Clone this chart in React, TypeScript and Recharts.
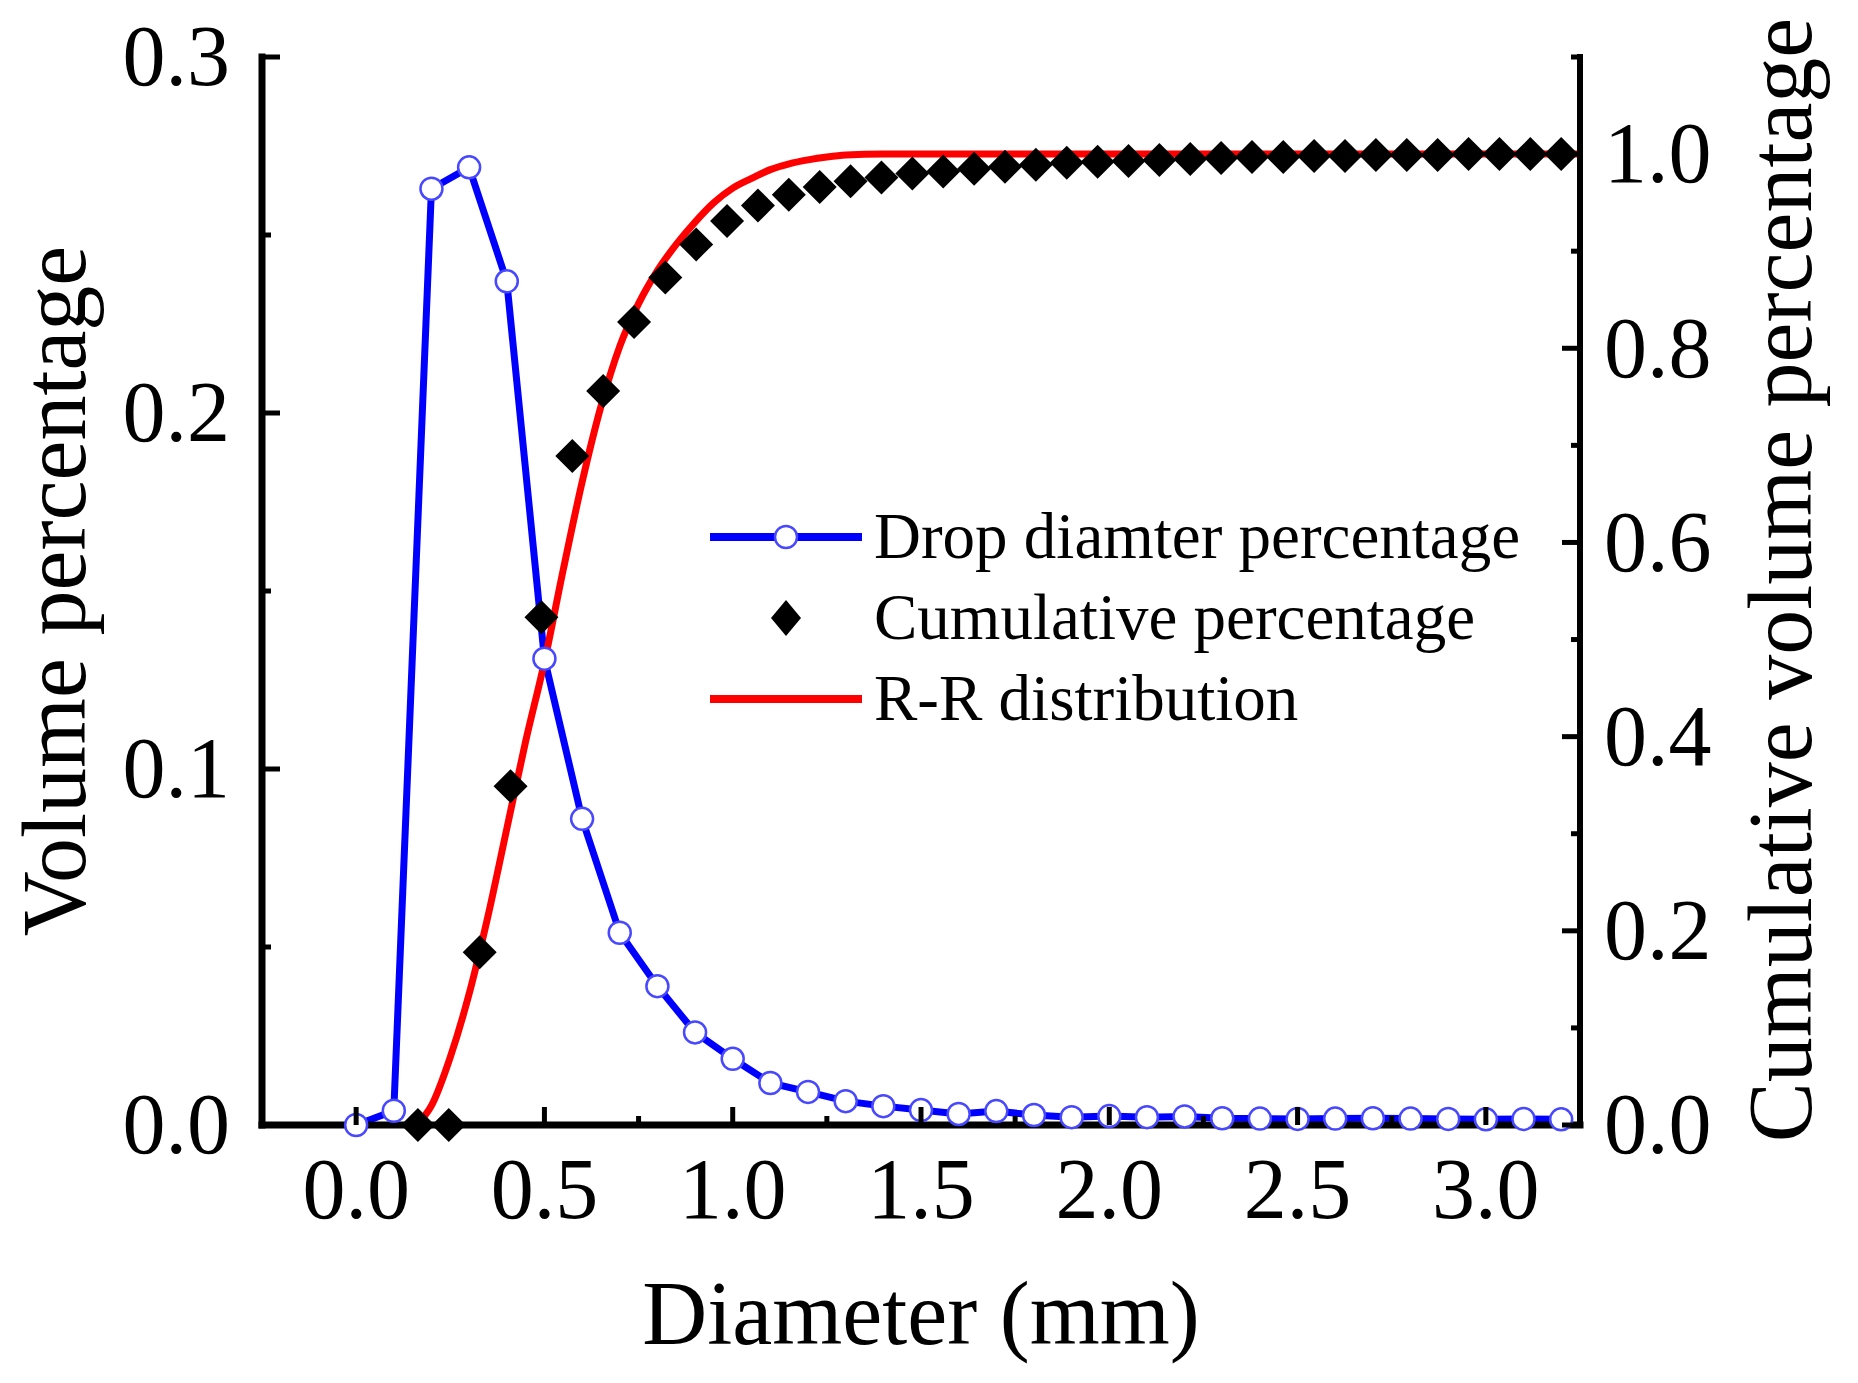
import React from "react";
import { ComposedChart, Line, XAxis, YAxis, Legend, Label } from "recharts";

const FONT = '"Liberation Serif", "Times New Roman", serif';

// drop diameter percentage (blue circles, left axis)
const dropDiameters = [0, 0.1, 0.2, 0.3, 0.4, 0.5, 0.6, 0.7, 0.8, 0.9, 1.0, 1.1, 1.2, 1.3, 1.4, 1.5, 1.6, 1.7, 1.8, 1.9, 2.0, 2.1, 2.2, 2.3, 2.4, 2.5, 2.6, 2.7, 2.8, 2.9, 3.0, 3.1, 3.2];
const dropPercent = [0, 0.004, 0.263, 0.269, 0.237, 0.131, 0.086, 0.054, 0.039, 0.026, 0.0186, 0.0118, 0.0093, 0.0067, 0.0053, 0.0042, 0.0031, 0.0039, 0.0028, 0.0022, 0.0025, 0.0022, 0.0024, 0.0019, 0.0018, 0.0017, 0.0018, 0.0019, 0.0018, 0.0017, 0.0016, 0.0017, 0.0016];

// cumulative percentage (black diamonds, right axis)
const cumDiameters = [0.164, 0.246, 0.328, 0.41, 0.492, 0.574, 0.656, 0.738, 0.821, 0.903, 0.985, 1.067, 1.149, 1.231, 1.313, 1.395, 1.477, 1.559, 1.641, 1.723, 1.805, 1.887, 1.969, 2.051, 2.133, 2.215, 2.297, 2.379, 2.462, 2.544, 2.626, 2.708, 2.79, 2.872, 2.954, 3.036, 3.118, 3.2];
const cumPercent = [0, 0, 0.178, 0.349, 0.523, 0.689, 0.756, 0.827, 0.873, 0.907, 0.931, 0.947, 0.958, 0.966, 0.972, 0.976, 0.98, 0.982, 0.985, 0.987, 0.989, 0.991, 0.992, 0.993, 0.994, 0.995, 0.996, 0.997, 0.997, 0.998, 0.998, 0.999, 0.999, 0.999, 1.0, 1.0, 1.0, 1.0];

// R-R distribution fit (red, right axis)
const rrDiameters = [0.16, 0.2, 0.25, 0.3, 0.35, 0.4, 0.45, 0.5, 0.55, 0.6, 0.65, 0.7, 0.75, 0.8, 0.85, 0.9, 0.95, 1.0, 1.05, 1.1, 1.15, 1.2, 1.25, 1.3, 1.4, 1.5, 2.0, 2.5, 3.25];
const rrPercent = [0, 0.02, 0.07, 0.135, 0.215, 0.305, 0.395, 0.477, 0.572, 0.662, 0.74, 0.802, 0.846, 0.88, 0.907, 0.93, 0.95, 0.965, 0.975, 0.984, 0.99, 0.994, 0.997, 0.999, 1.0, 1.0, 1.0, 1.0, 1.0];

const xMajor = [0, 0.5, 1, 1.5, 2, 2.5, 3];
const xMinor = [0.25, 0.75, 1.25, 1.75, 2.25, 2.75];
const leftMajor = [0, 0.1, 0.2, 0.3];
const leftMinor = [0.05, 0.15, 0.25];
const rightMajor = [0, 0.2, 0.4, 0.6, 0.8, 1.0];
const rightMinor = [0.1, 0.3, 0.5, 0.7, 0.9, 1.1];

const dropData = dropDiameters.map((d, i) => ({ d, v: dropPercent[i] }));
const cumData = cumDiameters.map((d, i) => ({ d, c: cumPercent[i] }));
const rrData = rrDiameters.map((d, i) => ({ d, c: rrPercent[i] }));

const BLUE = "#0000ff";
const CIRCLE = "#4848ff";
const RED = "#ff0000";

const legendItems = [
  { name: "Drop diamter percentage", kind: "circle" },
  { name: "Cumulative percentage", kind: "diamond" },
  { name: "R-R distribution", kind: "line" },
];

const tickText = { fontFamily: FONT, fontSize: 86, fill: "#000" };

function BottomTick(props: any) {
  const { x, y, payload } = props;
  const major = xMajor.includes(payload.value);
  return (
    <g>
      <line x1={x} x2={x} y1={y} y2={y - (major ? 18 : 9)} stroke="#000" strokeWidth={5} />
      {major && (
        <text x={x} y={y + 93} textAnchor="middle" {...tickText}>
          {payload.value.toFixed(1)}
        </text>
      )}
    </g>
  );
}

function LeftTick(props: any) {
  const { x, y, payload } = props;
  const major = leftMajor.includes(payload.value);
  return (
    <g>
      <line x1={x} x2={x + (major ? 18 : 9)} y1={y} y2={y} stroke="#000" strokeWidth={5} />
      {major && (
        <text x={x - 32} y={y} dy="0.33em" textAnchor="end" {...tickText}>
          {payload.value.toFixed(1)}
        </text>
      )}
    </g>
  );
}

function RightTick(props: any) {
  const { x, y, payload } = props;
  const major = rightMajor.includes(payload.value);
  return (
    <g>
      <line x1={x} x2={x - (major ? 18 : 9)} y1={y} y2={y} stroke="#000" strokeWidth={5} />
      {major && (
        <text x={x + 24} y={y} dy="0.33em" textAnchor="start" {...tickText}>
          {payload.value.toFixed(1)}
        </text>
      )}
    </g>
  );
}

function DiamondDot(props: any) {
  const { cx, cy, index } = props;
  if (cx == null || cy == null) return <g key={`dm-${index}`} />;
  return (
    <path
      key={`dm-${index}`}
      d={`M${cx},${cy - 17} L${cx + 17},${cy} L${cx},${cy + 17} L${cx - 17},${cy} Z`}
      fill="#000"
    />
  );
}

function renderLegend() {
  return (
    <div style={{ fontFamily: FONT, fontSize: 65, color: "#000" }}>
      {legendItems.map((item) => (
        <div key={item.name} style={{ display: "flex", alignItems: "center", height: 81 }}>
          <svg width={152} height={40} style={{ marginRight: 12, flex: "none" }}>
            {item.kind !== "diamond" && (
              <line x1={0} x2={152} y1={20} y2={20} stroke={item.kind === "circle" ? BLUE : RED} strokeWidth={8} />
            )}
            {item.kind === "circle" && <circle cx={76} cy={20} r={11} fill="#fff" stroke={CIRCLE} strokeWidth={2.5} />}
            {item.kind === "diamond" && <path d="M76,2 L91,20 L76,38 L61,20 Z" fill="#000" />}
          </svg>
          <span style={{ lineHeight: "81px", whiteSpace: "nowrap" }}>{item.name}</span>
        </div>
      ))}
    </div>
  );
}

const titleText = { fontFamily: FONT, fontSize: 90, fill: "#000" };

export default function App() {
  return (
    <div style={{ position: "absolute", left: 0, top: 0, width: 1858, height: 1383, background: "#fff" }}>
      <ComposedChart width={1858} height={1383} margin={{ top: 57, right: 78, bottom: 58, left: 62 }}>
        <XAxis
          dataKey="d"
          type="number"
          domain={[-0.25, 3.25]}
          ticks={[...xMajor, ...xMinor].sort((a, b) => a - b)}
          interval={0}
          height={200}
          tickSize={0}
          tickMargin={0}
          tickLine={false}
          tick={BottomTick}
          axisLine={{ stroke: "#000", strokeWidth: 7, strokeLinecap: "square" }}
        >
          <Label
            content={(p: any) => {
              const vb = p.viewBox;
              return (
                <text x={vb.x + vb.width / 2} y={vb.y + 219} textAnchor="middle" {...titleText}>
                  Diameter (mm)
                </text>
              );
            }}
          />
        </XAxis>
        <YAxis
          yAxisId="v"
          orientation="left"
          type="number"
          domain={[0, 0.3]}
          ticks={[...leftMajor, ...leftMinor].sort((a, b) => a - b)}
          interval={0}
          width={200}
          tickSize={0}
          tickMargin={0}
          tickLine={false}
          tick={LeftTick}
          axisLine={{ stroke: "#000", strokeWidth: 7, strokeLinecap: "square" }}
        >
          <Label
            content={(p: any) => {
              const vb = p.viewBox;
              const cx = vb.x + 23;
              const cy = vb.y + vb.height / 2;
              return (
                <text x={cx} y={cy} transform={`rotate(-90, ${cx}, ${cy})`} textAnchor="middle" {...titleText}>
                  Volume percentage
                </text>
              );
            }}
          />
        </YAxis>
        <YAxis
          yAxisId="c"
          orientation="right"
          type="number"
          domain={[0, 1.1]}
          ticks={[...rightMajor, ...rightMinor].sort((a, b) => a - b)}
          interval={0}
          width={200}
          tickSize={0}
          tickMargin={0}
          tickLine={false}
          tick={RightTick}
          axisLine={{ stroke: "#000", strokeWidth: 6, strokeLinecap: "square" }}
        >
          <Label
            content={(p: any) => {
              const vb = p.viewBox;
              const cx = vb.x + 231;
              const cy = vb.y + vb.height / 2 - 11;
              return (
                <text x={cx} y={cy} transform={`rotate(-90, ${cx}, ${cy})`} textAnchor="middle" {...titleText}>
                  Cumulative volume percentage
                </text>
              );
            }}
          />
        </YAxis>
        <Legend
          content={renderLegend}
          layout="vertical"
          align="center"
          verticalAlign="middle"
          wrapperStyle={{ left: 710, top: 496, width: 900, height: 243 }}
        />
        <Line
          data={dropData}
          dataKey="v"
          yAxisId="v"
          name="Drop diamter percentage"
          type="linear"
          stroke={BLUE}
          strokeWidth={7}
          dot={{ r: 11, fill: "#fff", stroke: CIRCLE, strokeWidth: 2.5 }}
          activeDot={false}
          isAnimationActive={false}
        />
        <Line
          data={cumData}
          dataKey="c"
          yAxisId="c"
          name="Cumulative percentage"
          stroke="none"
          strokeWidth={0}
          dot={DiamondDot}
          activeDot={false}
          isAnimationActive={false}
        />
        <Line
          data={rrData}
          dataKey="c"
          yAxisId="c"
          name="R-R distribution"
          type="monotone"
          stroke={RED}
          strokeWidth={7}
          dot={false}
          activeDot={false}
          isAnimationActive={false}
        />
      </ComposedChart>
    </div>
  );
}
